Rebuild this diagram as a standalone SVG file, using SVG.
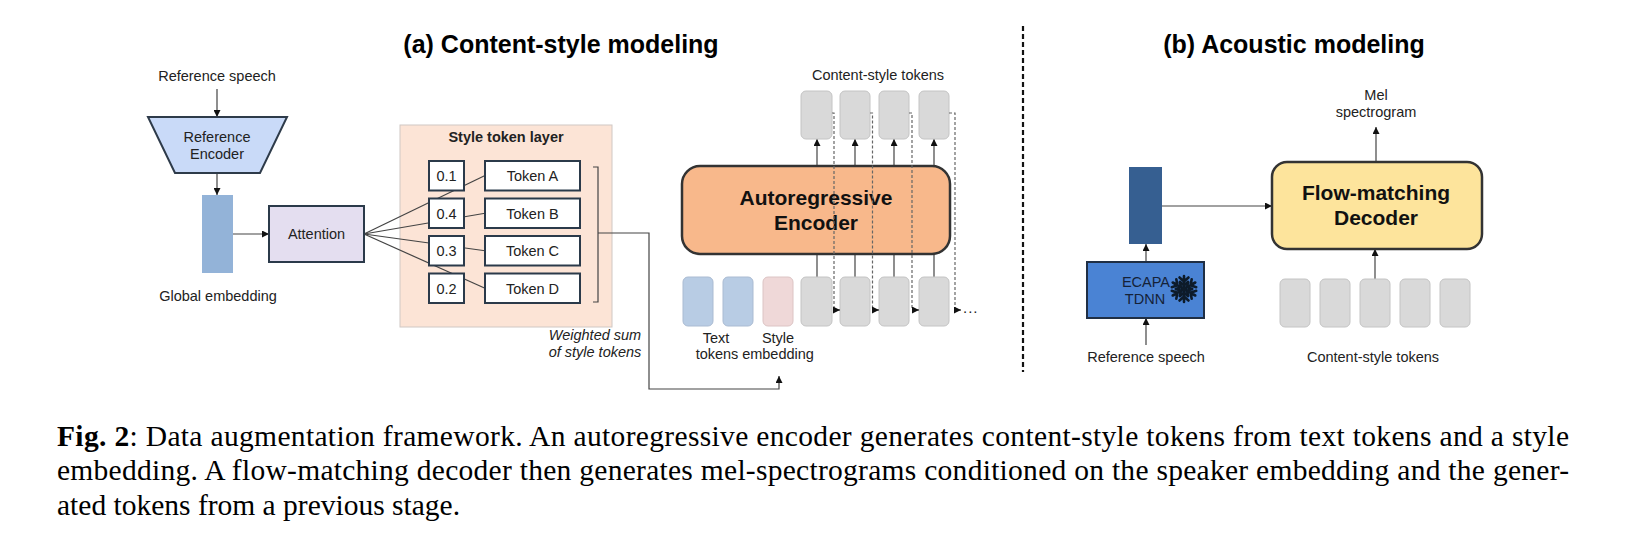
<svg xmlns="http://www.w3.org/2000/svg" xmlns:xlink="http://www.w3.org/1999/xlink" width="1625" height="554" viewBox="0 0 1625 554">
<defs>
<style>
.lbl{font-family:"Liberation Sans",Arial,sans-serif;font-size:14.5px;fill:#222;text-anchor:middle}
.ttl{font-family:"Liberation Sans",Arial,sans-serif;font-size:25px;font-weight:bold;fill:#000;text-anchor:middle}
.big{font-family:"Liberation Sans",Arial,sans-serif;font-size:21px;font-weight:bold;fill:#111;text-anchor:middle}
.bx{fill:#fff;stroke:#2b3a4a;stroke-width:2}
.tok{fill:#d9d9d9;stroke:#c4c4c4;stroke-width:1}
.ln{fill:none;stroke:#444;stroke-width:1.2}
.arr{fill:none;stroke:#444;stroke-width:1.2;marker-end:url(#ah)}
.dash{fill:none;stroke:#666;stroke-width:1.2;stroke-dasharray:3 2}
.cap{font-family:"Liberation Serif","Times New Roman",serif;font-size:29.5px;fill:#000}
</style>
<marker id="ah" markerUnits="userSpaceOnUse" markerWidth="7" markerHeight="7" refX="7" refY="3.5" orient="auto">
<path d="M0,0 L7,3.5 L0,7 z" fill="#111"/>
</marker>
<path id="arm" d="M0,0 V-13 M0,-7.5 L-4.5,-11.5 M0,-7.5 L4.5,-11.5 M0,-3.5 L-4,-7 M0,-3.5 L4,-7" fill="none" stroke="#0d1b2a" stroke-width="2.6" stroke-linecap="round"/>
</defs>
<rect width="1625" height="554" fill="#fff"/>

<text class="ttl" x="561" y="53">(a) Content-style modeling</text>
<text class="ttl" x="1294" y="53">(b) Acoustic modeling</text>

<g id="divider">
<line x1="1023" y1="26" x2="1023" y2="372" stroke="#111" stroke-width="2.2" stroke-dasharray="5 3"/>
</g>

<g id="style-token-layer">
<rect x="400" y="125" width="212" height="202" fill="#fce4d6" stroke="#d0c8c4" stroke-width="1"/>
<text class="lbl" x="506" y="142" font-weight="bold">Style token layer</text>
</g>

<g id="connectors">
<line class="arr" x1="217" y1="89" x2="217" y2="117"/>
<line class="arr" x1="217" y1="173" x2="217" y2="195"/>
<line class="arr" x1="233" y1="234" x2="269" y2="234"/>
<line class="ln" x1="364" y1="234" x2="485" y2="175.5"/>
<line class="ln" x1="364" y1="234" x2="485" y2="213.25"/>
<line class="ln" x1="364" y1="234" x2="485" y2="250.75"/>
<line class="ln" x1="364" y1="234" x2="485" y2="288.25"/>
<path class="ln" d="M593,167 H598 V302 H593"/>
<path class="arr" d="M598,233 H649 V389 H779 V376"/>
<line class="arr" x1="817" y1="166" x2="817" y2="139"/>
<line class="arr" x1="855" y1="166" x2="855" y2="139"/>
<line class="arr" x1="894" y1="166" x2="894" y2="139"/>
<line class="arr" x1="934" y1="166" x2="934" y2="139"/>
<line class="ln" x1="817" y1="277" x2="817" y2="254"/>
<line class="ln" x1="855" y1="277" x2="855" y2="254"/>
<line class="ln" x1="894" y1="277" x2="894" y2="254"/>
<line class="ln" x1="934" y1="277" x2="934" y2="254"/>
<line class="arr" x1="1376" y1="162" x2="1376" y2="127"/>
<line class="arr" x1="1162" y1="206" x2="1272" y2="206"/>
<line class="arr" x1="1146" y1="262" x2="1146" y2="244"/>
<line class="arr" x1="1146" y1="345" x2="1146" y2="318"/>
<line class="arr" x1="1375" y1="279" x2="1375" y2="249"/>
</g>

<g id="reference-speech-a">
<text class="lbl" x="217" y="81">Reference speech</text>
</g>

<g id="reference-encoder">
<polygon points="148,117 287,117 260,173 175,173" fill="#c9daf8" stroke="#2e3b4a" stroke-width="2"/>
<text class="lbl" x="217" y="142">Reference</text>
<text class="lbl" x="217" y="159">Encoder</text>
</g>

<g id="global-embedding">
<rect x="202" y="195" width="31" height="78" fill="#93b3d8"/>
<text class="lbl" x="218" y="301">Global embedding</text>
</g>

<g id="attention">
<rect x="269" y="206" width="95" height="56" fill="#e4def0" stroke="#2b3a4a" stroke-width="2"/>
<text class="lbl" x="316.5" y="239">Attention</text>
</g>

<g id="weights">
<rect class="bx" x="429" y="161" width="35" height="29.5"/>
<text class="lbl" x="446.5" y="181">0.1</text>
<rect class="bx" x="429" y="198.5" width="35" height="29.5"/>
<text class="lbl" x="446.5" y="218.5">0.4</text>
<rect class="bx" x="429" y="236" width="35" height="29.5"/>
<text class="lbl" x="446.5" y="256">0.3</text>
<rect class="bx" x="429" y="273.5" width="35" height="29.5"/>
<text class="lbl" x="446.5" y="293.5">0.2</text>
</g>

<g id="tokens">
<rect class="bx" x="485" y="161" width="95" height="29.5"/>
<text class="lbl" x="532.5" y="181">Token A</text>
<rect class="bx" x="485" y="198.5" width="95" height="29.5"/>
<text class="lbl" x="532.5" y="218.5">Token B</text>
<rect class="bx" x="485" y="236" width="95" height="29.5"/>
<text class="lbl" x="532.5" y="256">Token C</text>
<rect class="bx" x="485" y="273.5" width="95" height="29.5"/>
<text class="lbl" x="532.5" y="293.5">Token D</text>
</g>

<g id="weighted-sum-label">
<text class="lbl" x="595" y="340" font-style="italic">Weighted sum</text>
<text class="lbl" x="595" y="357" font-style="italic">of style tokens</text>
</g>

<g id="autoregressive-encoder">
<rect x="682" y="166" width="268" height="88" rx="18" fill="#f8b88b" stroke="#333" stroke-width="2.5"/>
<text class="big" x="816" y="205">Autoregressive</text>
<text class="big" x="816" y="230">Encoder</text>
</g>

<g id="content-style-tokens-out">
<text class="lbl" x="878" y="80">Content-style tokens</text>
<rect class="tok" x="801" y="91" width="31" height="48" rx="5"/>
<rect class="tok" x="840" y="91" width="30" height="48" rx="5"/>
<rect class="tok" x="879" y="91" width="30" height="48" rx="5"/>
<rect class="tok" x="919" y="91" width="30" height="48" rx="5"/>
</g>

<g id="input-tokens">
<rect x="683" y="277" width="30" height="49" rx="5" fill="#b8cce4" stroke="#aabbd2" stroke-width="1"/>
<rect x="723" y="277" width="30" height="49" rx="5" fill="#b8cce4" stroke="#aabbd2" stroke-width="1"/>
<rect x="763" y="277" width="30" height="49" rx="5" fill="#efd8d8" stroke="#dcc4c4" stroke-width="1"/>
<rect class="tok" x="801" y="277" width="31" height="49" rx="5"/>
<rect class="tok" x="840" y="277" width="30" height="49" rx="5"/>
<rect class="tok" x="879" y="277" width="30" height="49" rx="5"/>
<rect class="tok" x="919" y="277" width="30" height="49" rx="5"/>
<text class="lbl" x="716" y="343">Text</text>
<text class="lbl" x="717" y="359">tokens</text>
<text class="lbl" x="778" y="343">Style</text>
<text class="lbl" x="778" y="359">embedding</text>
</g>

<g id="autoregressive-feedback">
<path class="dash" d="M832,113 H834 V310" />
<path class="dash" d="M870,113 H872.5 V310" />
<path class="dash" d="M909,113 H912 V310" />
<path class="dash" d="M949,113 H955 V310" />
<line class="arr" x1="834" y1="310" x2="840" y2="310"/>
<line class="arr" x1="872.5" y1="310" x2="879" y2="310"/>
<line class="arr" x1="912" y1="310" x2="919" y2="310"/>
<line class="arr" x1="955" y1="310" x2="961" y2="310"/>
<text x="963" y="313" font-family="Liberation Sans, Arial, sans-serif" font-size="15" fill="#222" letter-spacing="1">...</text>
</g>

<g id="speaker-embedding">
<rect x="1129" y="167" width="33" height="77" fill="#365f91"/>
</g>

<g id="ecapa-tdnn">
<rect x="1087" y="262" width="117" height="56" fill="#4a83d4" stroke="#1f2f45" stroke-width="2"/>
<text class="lbl" x="1146" y="287" style="fill:#152238">ECAPA</text>
<text class="lbl" x="1145" y="304" style="fill:#152238">TDNN</text>
<g id="snowflake" transform="translate(1184,289)">
<use xlink:href="#arm"/>
<use xlink:href="#arm" transform="rotate(60)"/>
<use xlink:href="#arm" transform="rotate(120)"/>
<use xlink:href="#arm" transform="rotate(180)"/>
<use xlink:href="#arm" transform="rotate(240)"/>
<use xlink:href="#arm" transform="rotate(300)"/>
<circle r="3" fill="#0d1b2a"/>
</g>
</g>

<g id="reference-speech-b">
<text class="lbl" x="1146" y="362">Reference speech</text>
</g>

<g id="mel-spectrogram">
<text class="lbl" x="1376" y="100">Mel</text>
<text class="lbl" x="1376" y="117">spectrogram</text>
</g>

<g id="flow-matching-decoder">
<rect x="1272" y="162" width="210" height="87" rx="15" fill="#fde49c" stroke="#333" stroke-width="2.5"/>
<text class="big" x="1376" y="200">Flow-matching</text>
<text class="big" x="1376" y="225">Decoder</text>
</g>

<g id="content-style-tokens-in">
<rect class="tok" x="1280" y="279" width="30" height="48" rx="5"/>
<rect class="tok" x="1320" y="279" width="30" height="48" rx="5"/>
<rect class="tok" x="1360" y="279" width="30" height="48" rx="5"/>
<rect class="tok" x="1400" y="279" width="30" height="48" rx="5"/>
<rect class="tok" x="1440" y="279" width="30" height="48" rx="5"/>
<text class="lbl" x="1373" y="362">Content-style tokens</text>
</g>

<g id="caption">
<text class="cap" x="57" y="446" textLength="1512" lengthAdjust="spacing"><tspan font-weight="bold">Fig. 2</tspan>: Data augmentation framework.  An autoregressive encoder generates content-style tokens from text tokens and a style</text>
<text class="cap" x="57" y="480" textLength="1512" lengthAdjust="spacing">embedding.  A flow-matching decoder then generates mel-spectrograms conditioned on the speaker embedding and the gener-</text>
<text class="cap" x="57" y="515">ated tokens from a previous stage.</text>
</g>
</svg>
